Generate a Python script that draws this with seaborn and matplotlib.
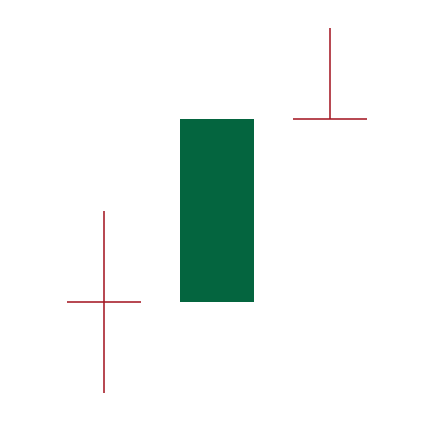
import numpy as np
import matplotlib.pyplot as plt
import seaborn as sns

# -------------------------------
# Candle data
# -------------------------------
days = [0, 1, 2]
open_ = [10, 10, 16]
high = [13, 16, 19]
low = [7, 10, 16]
close = [10, 16, 16]

up_color = "#04653f"
wick_color = "#a3141f"
body_w = 0.66

sns.set_theme(style="white")
fig = plt.figure(figsize=(4.34, 4.22), dpi=100)
ax = fig.add_axes([0, 0, 1, 1])

for d, o, h, l, c in zip(days, open_, high, low, close):
    if o == c:
        # doji: wick plus flat line
        ax.vlines(d, l, h, color=wick_color, linewidth=1.1)
        ax.hlines(o, d - body_w / 2, d + body_w / 2, color=wick_color, linewidth=1.1)
    else:
        lo, hi = min(o, c), max(o, c)
        if h > hi:
            ax.vlines(d, hi, h, color=wick_color, linewidth=1.1)
        if l < lo:
            ax.vlines(d, l, lo, color=wick_color, linewidth=1.1)
        ax.bar(d, hi - lo, bottom=lo, width=body_w, color=up_color, linewidth=0)

ax.set_xlim(-0.92, 2.92)
ax.set_ylim(6.05, 19.92)
ax.axis("off")
sns.despine(left=True, bottom=True)

plt.savefig("out.png", dpi=100)
plt.close()
